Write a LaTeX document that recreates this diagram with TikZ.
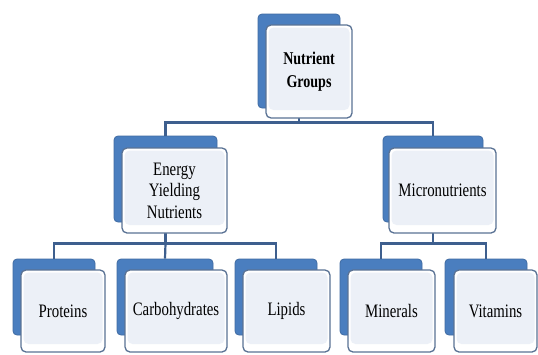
\documentclass[tikz,border=0pt]{standalone}
\usepackage{fontspec}
\newfontfamily\boxfont[FakeStretch=0.78]{Liberation Serif}
\definecolor{backblue}{HTML}{4A7EBF}
\definecolor{frontline}{HTML}{5A7294}
\definecolor{linkblue}{HTML}{3E5F8E}
\definecolor{innerfill}{HTML}{ECF0F7}

\begin{document}
\begin{tikzpicture}[x=1pt, y=-1pt,
		backbox/.style={draw=backblue!85!black, fill=backblue, rounded corners=4pt, line width=0.8pt, inner sep=0pt},
		frontbox/.style={draw=frontline, fill=white, rounded corners=5pt, line width=1.3pt, inner sep=0pt, align=center,
			font=\boxfont\fontsize{19}{21.5}\selectfont,
			path picture={\fill[innerfill] ([shift={(2.5pt,-2.5pt)}]path picture bounding box.north west) rectangle ([shift={(-2.5pt,8pt)}]path picture bounding box.south east);}},
		link/.style={draw=linkblue, line width=2.2pt}]
		\fill[white] (0,0) rectangle (538,354);
		\useasboundingbox (0,0) rectangle (538,354);
		
		% back boxes
		\node[backbox, minimum width=82pt, minimum height=94pt] (groups) at (299,61) {};
		\node[backbox, minimum width=103pt, minimum height=86pt] (energy) at (165.5,179) {};
		\node[backbox, minimum width=100pt, minimum height=86pt] (micro) at (433,179) {};
		\node[backbox, minimum width=82pt, minimum height=76pt] (proteins) at (54,297) {};
		\node[backbox, minimum width=96pt, minimum height=76pt] (carbs) at (165,297) {};
		\node[backbox, minimum width=82pt, minimum height=76pt] (lipids) at (276,297) {};
		\node[backbox, minimum width=82pt, minimum height=76pt] (minerals) at (381,297) {};
		\node[backbox, minimum width=82pt, minimum height=76pt] (vitamins) at (486,297) {};
		
		% connectors
		\draw[link] (groups.south) -- ++(0,14) coordinate (g_bus) -| (energy.north);
		\draw[link] (g_bus) -| (micro.north);
		\draw[link] (energy.south) -- ++(0,21) coordinate (e_bus) -| (proteins.north);
		\draw[link] (e_bus) -| (lipids.north);
		\draw[link] (e_bus) -- (carbs.north);
		\draw[link] (micro.south) -- ++(0,21) coordinate (m_bus) -| (minerals.north);
		\draw[link] (m_bus) -| (vitamins.north);
		
		% front boxes
		\node[frontbox, minimum width=86pt, minimum height=93pt, font=\boxfont\fontsize{18}{23}\selectfont\bfseries] (groups_f) at (309,71.5) {Nutrient\\Groups};
		\node[frontbox, minimum width=105pt, minimum height=85pt] (energy_f) at (174.5,190.5) {Energy\\Yielding\\Nutrients};
		\node[frontbox, minimum width=107pt, minimum height=85pt] (micro_f) at (442.5,190.5) {Micronutrients};
		\node[frontbox, minimum width=84pt, minimum height=82pt] (proteins_f) at (63,311) {Proteins};
		\node[frontbox, minimum width=102pt, minimum height=82pt] (carbs_f) at (176,311) {Carbohydrates};
		\node[frontbox, minimum width=87pt, minimum height=82pt] (lipids_f) at (286.5,311) {Lipids};
		\node[frontbox, minimum width=87pt, minimum height=82pt] (minerals_f) at (391.5,311) {Minerals};
		\node[frontbox, minimum width=83pt, minimum height=82pt] (vitamins_f) at (495.5,311) {Vitamins};
	\end{tikzpicture}
\end{document}
